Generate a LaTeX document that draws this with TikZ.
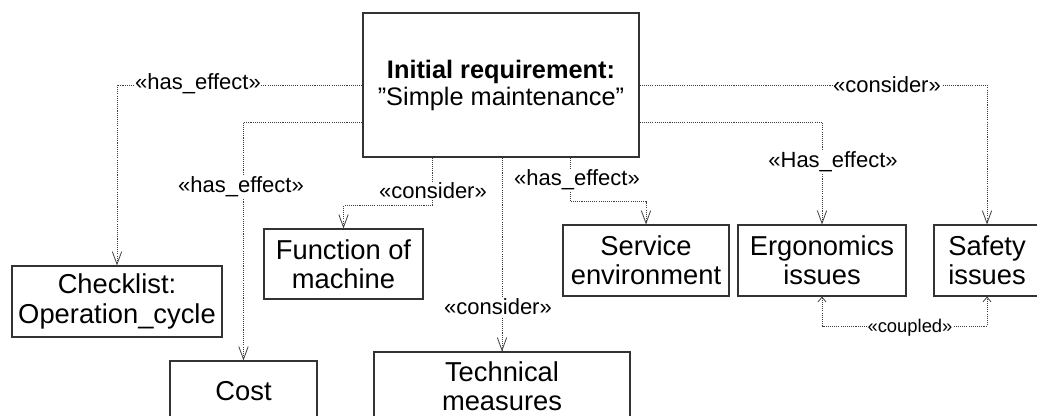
\documentclass[tikz,border=0pt]{standalone}
\usepackage{fontspec}
\setmainfont{Liberation Sans}
\usetikzlibrary{arrows.meta}
\begin{document}
\begin{tikzpicture}[x=0.75pt,y=-0.75pt,
  sz/.style 2 args={minimum width=#1*0.75pt, minimum height=#2*0.75pt},
  box/.style={draw=black!80, line width=0.85pt, align=center, inner sep=0pt,
    font=\fontsize{20.5}{22}\selectfont},
  dep/.style={draw=black!75, line width=0.65pt, dash pattern=on 0.8pt off 0.8pt,
    -{Straight Barb[length=9.5pt,width=7pt,line width=0.6pt]}},
  coup/.style={dep, {Straight Barb[length=3.5pt,width=6pt,line width=0.6pt]}-{Straight Barb[length=3.5pt,width=6pt,line width=0.6pt]}},
  lab/.style={fill=white, inner sep=0.5pt, font=\fontsize{16.5}{18}\selectfont}]
\useasboundingbox (0,0) rectangle (1037,416);
\clip (0,0) rectangle (1037,416);
\fill[white] (0,0) rectangle (1037,416);

\coordinate (y122) at (0,122);
\coordinate (y326) at (0,326);

\node[box, sz={276}{144}, font=\fontsize{19}{20.25}\selectfont] (main) at (501,85)
  {\textbf{Initial requirement:}\\”Simple maintenance”};
\node[box, sz={210}{71}] (check) at (117,301.5) {Checklist:\\Operation\_cycle};
\node[box, sz={159}{70}] (func) at (343.5,264) {Function of\\machine};
\node[box, sz={147}{60}] (cost) at (243.5,391) {Cost};
\node[box, sz={256}{68}] (tech) at (502,386) {Technical\\measures};
\node[box, sz={166}{71}] (serv) at (646,260.5) {Service\\environment};
\node[box, sz={168}{71}] (ergo) at (822,260.5) {Ergonomics\\issues};
\node[box, sz={106}{71}] (safe) at (987,260.5) {Safety\\issues};

\draw[dep] (main.west) -| (check.north);
\draw[dep] (main.west |- y122) -| (cost.north);
\draw[dep] (main.south -| func.north) ++(88.5,0) coordinate (fs) -- ++(0,48) -| (func.north);
\draw[dep] (main.south -| tech.north) -- (tech.north);
\draw[dep] (main.south -| serv.north) ++(-76,0) coordinate (ss) -- ++(0,44) -| (serv.north);
\draw[dep] (main.east |- y122) -| (ergo.north);
\draw[dep] (main.east) -| (safe.north);
\draw[coup] (ergo.south) -- (ergo.south |- y326) -- (safe.south |- y326) -- (safe.south);

\node[lab] (l1) at (198,84) {«has\_effect»};
\node[lab] (l2) at (241,187) {«has\_effect»};
\node[lab] (l3) at (433,191) {«consider»};
\node[lab] (l4) at (498,307) {«consider»};
\node[lab] (l5) at (577,180) {«has\_effect»};
\node[lab] (l6) at (833,162) {«Has\_effect»};
\node[lab] (l7) at (887,85) {«consider»};
\node[lab, font=\fontsize{13.8}{15}\selectfont] (l8) at (910,328) {«coupled»};
\end{tikzpicture}
\end{document}
